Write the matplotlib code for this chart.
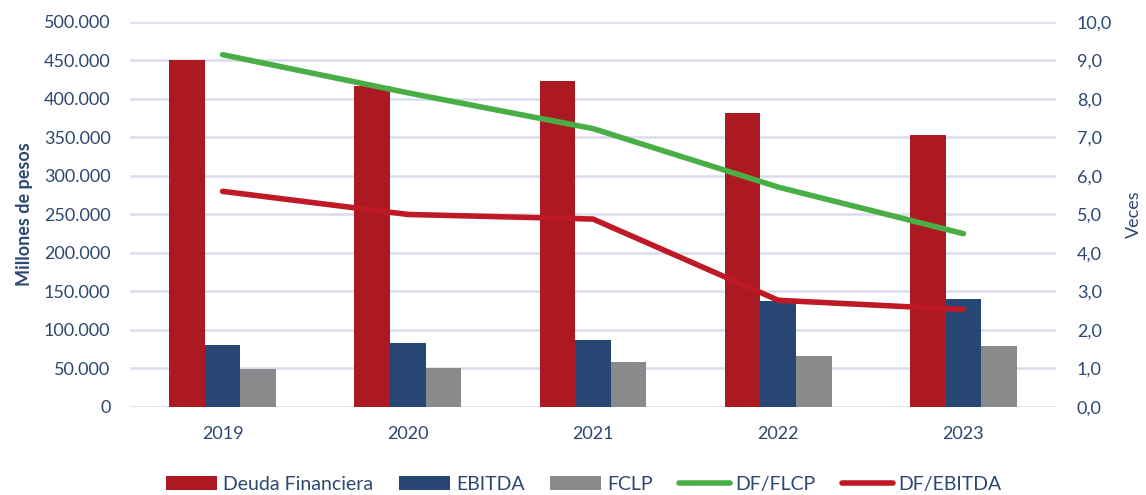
import numpy as np
import matplotlib.pyplot as plt
from matplotlib.ticker import FuncFormatter

# Data
years = ['2019', '2020', '2021', '2022', '2023']
deuda_financiera = [451000, 416500, 423000, 381800, 353000]
ebitda = [81000, 83600, 86600, 138200, 139500]
fclp = [49400, 51100, 58500, 66700, 78800]
df_flcp = [9.15, 8.16, 7.23, 5.71, 4.50]
df_ebitda = [5.60, 5.00, 4.88, 2.77, 2.53]

TXT = '#2C4770'
GRID = '#D9DCEB'

plt.rcParams['font.family'] = ['Lato', 'DejaVu Sans']

fig = plt.figure(figsize=(11.46, 4.95), dpi=100)
ax = fig.add_axes([0.1134, 0.178, 0.8081, 0.7776])
ax2 = ax.twinx()

x = np.arange(len(years))
w = 0.192
ax.bar(x - w, deuda_financiera, w, color='#AD1923', label='Deuda Financiera', zorder=2)
ax.bar(x, ebitda, w, color='#274673', label='EBITDA', zorder=2)
ax.bar(x + w, fclp, w, color='#898A8C', label='FCLP', zorder=2)

ax2.plot(x, df_flcp, color='#4AAE46', lw=4, solid_capstyle='round', label='DF/FLCP')
ax2.plot(x, df_ebitda, color='#BE1925', lw=4, solid_capstyle='round', label='DF/EBITDA')

ax.set_xlim(-0.5, len(years) - 0.5)
ax.set_ylim(0, 500000)
ax.set_yticks(np.arange(0, 500001, 50000))
ax.yaxis.set_major_formatter(FuncFormatter(lambda v, p: f'{int(v):,}'.replace(',', '.')))
ax2.set_ylim(0, 10)
ax2.set_yticks(np.arange(0, 10.01, 1))
ax2.yaxis.set_major_formatter(FuncFormatter(lambda v, p: f'{v:.1f}'.replace('.', ',')))

ax.set_xticks(x)
ax.set_xticklabels(years)
ax.grid(axis='y', color=GRID, lw=1.8, zorder=0)
ax.set_axisbelow(True)

for a in (ax, ax2):
    for s in a.spines.values():
        s.set_visible(False)
ax.tick_params(axis='y', length=0, pad=14, labelsize=13, labelcolor=TXT)
ax.tick_params(axis='x', length=0, pad=14, labelsize=13, labelcolor=TXT)
ax2.tick_params(axis='y', length=0, pad=15, labelsize=13, labelcolor=TXT)

ax.set_ylabel('Millones de pesos', fontsize=13, fontweight='bold', color=TXT, labelpad=8)
ax2.set_ylabel('Veces', fontsize=13, color=TXT, labelpad=10)

h1, l1 = ax.get_legend_handles_labels()
h2, l2 = ax2.get_legend_handles_labels()
leg = fig.legend(h1 + h2, l1 + l2, loc='center', bbox_to_anchor=(0.5096, 0.022),
                 ncol=5, frameon=False, fontsize=14, handlelength=2.62,
                 handleheight=0.8, handletextpad=0.3, columnspacing=1.33)
for t in leg.get_texts():
    t.set_color(TXT)

fig.savefig('out.png', dpi=100)
